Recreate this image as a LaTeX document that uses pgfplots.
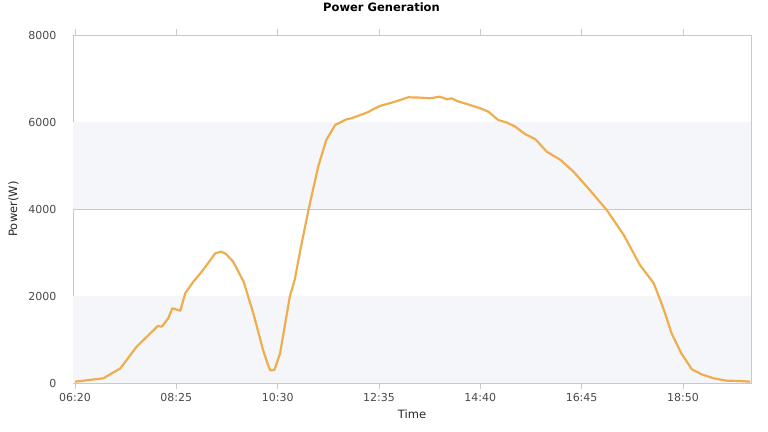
\documentclass[border=0pt]{standalone}
\usepackage{pgfplots}
\pgfplotsset{compat=1.18}
\usepackage{fontspec}
\setmainfont{DejaVu Sans}
\definecolor{linec}{HTML}{EFAE4E}
\definecolor{band}{HTML}{F4F6FA}
\definecolor{gridc}{HTML}{C6C9CE}
\definecolor{labc}{HTML}{4A4A4A}

% x = minutes after midnight
\begin{document}
\begin{tikzpicture}[x=1pt,y=1pt]
\useasboundingbox (0,0) rectangle (768,431);
\begin{axis}[
    at={(73pt,48pt)}, anchor=south west,
    scale only axis, width=678pt, height=348pt,
    xmin=377.5, xmax=1214, ymin=0, ymax=8000,
    axis line style={gridc, line width=0.8pt},
    xtick={380,505,630,755,880,1005,1130},
    xticklabels={06:20,08:25,10:30,12:35,14:40,16:45,18:50},
    ytick={0,2000,4000,6000,8000},
    yticklabels={0,2000,4000,6000,8000},
    tick align=outside, major tick length=6pt,
    xtick style={gridc, line width=0.8pt},
    ytick style={draw=none},
    ymajorgrids=true, grid style={gridc, line width=0.8pt},
    tick label style={font=\fontsize{11}{12}\selectfont, text=labc},
    xticklabel style={yshift=-1pt},
    yticklabel style={xshift=-7pt},
    title={\bfseries Power Generation},
    title style={font=\fontsize{11.5}{13}\selectfont, at={(rel axis cs:0.455,1)}, yshift=14pt, anchor=south},
    xlabel={Time}, ylabel={Power(W)},
    label style={font=\fontsize{11.5}{13}\selectfont, text=black!85},
    xlabel style={yshift=-1pt},
    ylabel style={yshift=3pt},
    clip=true,
]
\fill[band] (rel axis cs:0,0) rectangle (rel axis cs:1,0.25);
\fill[band] (rel axis cs:0,0.5) rectangle (rel axis cs:1,0.75);
\addplot[linec, line width=2.2pt, line join=round] coordinates {
(380,30) (398,70) (415,108) (436,337) (456,835) (475,1180) (482,1310)
(487,1295) (495,1487) (500,1717) (510,1662) (516,2062) (526,2330)
(538,2598) (553,2981) (560,3020) (566,2970) (575,2790) (588,2330)
(600,1600) (612,760) (618,420) (621,290) (626,300) (633,683) (645,1985)
(651,2368) (658,3058) (668,3977) (680,4973) (690,5587) (701,5931)
(715,6062) (721,6085) (740,6215) (756,6368) (775,6467) (791,6568)
(806,6560) (818,6545) (830,6582) (839,6522) (845,6545) (851,6484)
(863,6415) (880,6315) (890,6237) (902,6046) (913,5985) (923,5893)
(935,5725) (948,5603) (962,5318) (979,5127) (995,4858) (1015,4437)
(1036,3977) (1057,3402) (1077,2713) (1094,2292) (1102,1908) (1108,1602)
(1116,1142) (1128,683) (1141,315) (1153,200) (1168,108) (1184,53)
(1201,46) (1213,30)
};
\end{axis}
\end{tikzpicture}
\end{document}
